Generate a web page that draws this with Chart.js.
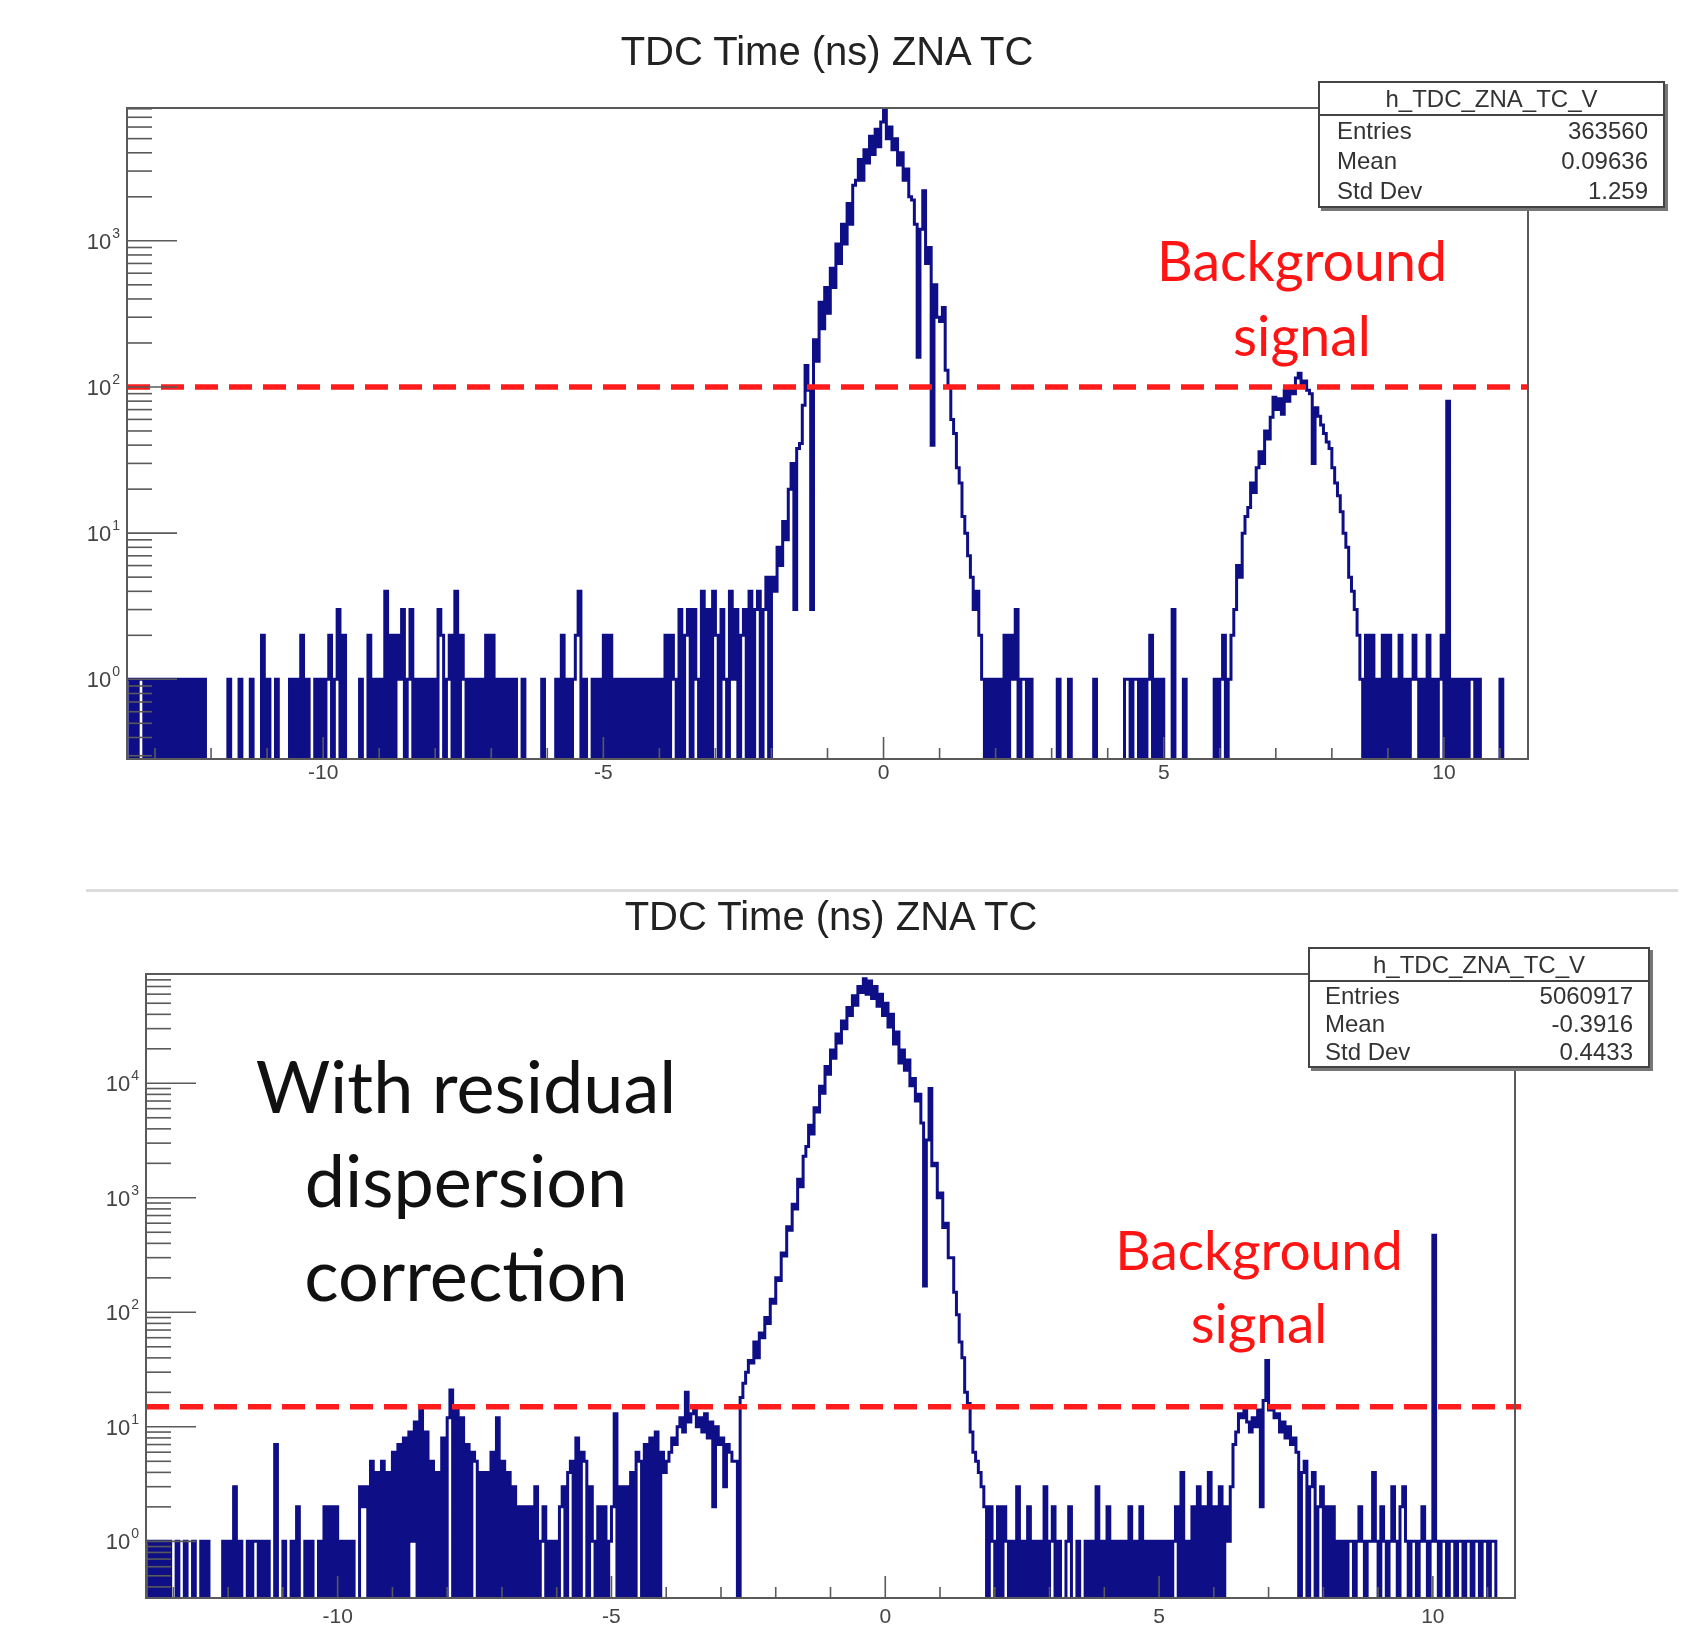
<!DOCTYPE html>
<html>
<head>
<meta charset="utf-8">
<title>TDC Time (ns) ZNA TC</title>
<script src="https://cdn.jsdelivr.net/npm/chart.js@4.4.0/dist/chart.umd.min.js"></script>
<style>
  body { margin: 0; background: #fff; width: 1687px; height: 1628px; position: relative; overflow: hidden; font-family: "Liberation Sans", Arial, sans-serif; }
  canvas { position: absolute; left: 0; filter: blur(0.5px); }
  #topChart { top: 0; }
  #bottomChart { top: 900px; }
  .title { position: absolute; font-size: 40px; color: #222; transform: translate(-50%, -50%); white-space: nowrap; z-index: 2; }
  .sep { position: absolute; left: 86px; top: 889px; width: 1592px; height: 3px; background: #dcdcdc; }
  .stats { position: absolute; box-sizing: border-box; border: 2px solid #444; background: #fff; box-shadow: 3px 3px 0 #777; color: #333; font-size: 24px; z-index: 3; }
  .stats .hdr { text-align: center; border-bottom: 2px solid #444; }
  .stats .row { display: flex; justify-content: space-between; }
  .note { position: absolute; transform: translate(-50%, -50%); text-align: center; font-family: Lato, "Open Sans", sans-serif; white-space: nowrap; z-index: 2; }
  .red { color: #ff1414; }
</style>
</head>
<body>
<canvas id="topChart" width="1687" height="880"></canvas>
<canvas id="bottomChart" width="1687" height="728"></canvas>
<div class="sep"></div>
<div class="title" id="titleTop" style="left:827px; top:51px;"></div>
<div class="title" id="titleBottom" style="left:831px; top:916px;"></div>
<div class="note red" style="left:1302px; top:297px; font-size:55.5px; line-height:75px;">Background<br>signal</div>
<div class="note red" style="left:1259px; top:1286px; font-size:55px; line-height:73px;">Background<br>signal</div>
<div class="note" style="left:466px; top:1179px; font-size:72px; line-height:94px; color:#111;">With residual<br>dispersion<br>correction</div>

<script>
// Histogram binning: 0.05 ns per bin, -13.5 ns to 11.5 ns (500 bins)
const binStart = -13.5;
const binWidth = 0.05;

// Top histogram counts (each line = 1 ns, 20 bins)
const countsTop = [
  1,0,1,0,1,1,0,1,0,1,0,1,0,1,0,1,0,1,0,1,        // -13.5
  0,1,0,1,0,1,0,1,0,0,0,0,0,0,0,0,1,0,0,0,        // -12.5
  1,0,0,0,1,0,0,0,2,0,1,0,0,1,0,0,0,0,1,0,        // -11.5
  1,0,2,0,1,0,0,1,0,1,0,1,2,0,1,3,0,2,0,0,        // -10.5
  0,0,0,1,0,0,2,0,1,0,1,0,4,0,2,0,2,1,3,0,        // -9.5
  1,3,0,1,0,1,0,1,0,1,0,3,2,0,1,2,0,4,0,2,        // -8.5
  1,0,1,0,1,0,1,0,2,0,2,0,1,0,1,0,1,0,1,0,        // -7.5
  0,1,0,0,0,0,0,0,1,0,0,0,0,1,0,2,0,1,0,1,        // -6.5
  2,4,0,1,0,0,1,0,1,0,2,0,2,0,1,0,1,0,1,0,        // -5.5
  1,0,1,0,1,0,1,0,1,0,1,0,2,0,2,1,0,3,0,2,        // -4.5
  3,0,3,1,0,4,0,3,0,4,2,0,3,1,0,4,1,3,0,2,        // -3.5
  3,0,4,0,3,4,0,3,5,0,5,4,8,6,12,9,20,30,3,38,    // -2.5
  41,75,140,95,3,210,150,380,250,480,320,650,480,950,700,1300,950,1800,1300,2400,        // -1.5
  2600,3600,2600,4200,3400,5200,3900,5800,4400,6500,7800,5000,6000,4200,5000,3300,4000,2600,3100,2000, // -0.5
  1900,1300,160,1200,2200,700,900,40,500,300,280,350,130,100,60,48,28,22,13,10,          // 0.5
  7,5,3,4,2,1,0,1,0,1,0,1,0,2,0,2,1,3,0,1,        // 1.5
  1,0,1,0,0,0,0,0,0,0,0,0,1,0,0,0,1,0,0,0,        // 2.5
  0,0,0,0,0,1,0,0,0,0,0,0,0,0,0,0,1,1,0,1,        // 3.5
  1,0,1,0,1,2,0,1,0,1,0,0,0,3,0,0,0,1,0,0,        // 4.5
  0,0,0,0,0,0,0,0,1,0,1,2,0,1,2,3,6,5,10,13,      // 5.5
  15,22,19,28,36,30,50,44,62,85,70,83,65,95,80,100,90,115,124,105, // 6.5
  110,95,90,30,72,63,55,48,42,38,28,22,18,14,10,8,5,4,3,2,         // 7.5
  1,0,2,0,2,0,1,0,2,0,2,0,1,0,2,0,1,0,1,2,        // 8.5
  1,0,1,0,2,0,1,0,1,2,0,80,0,1,0,1,0,1,0,1,       // 9.5
  1,0,1,0,0,0,0,0,0,0,1,0,0,0,0,0,0,0,0,0         // 10.5
];

// Bottom histogram counts (with residual dispersion correction)
const countsBottom = [
  1,0,1,0,1,0,1,0,1,0,0,1,0,0,1,0,0,1,0,0,        // -13.5
  1,0,1,0,0,0,0,0,1,0,1,0,3,0,1,0,0,1,0,1,        // -12.5
  1,0,1,0,1,0,0,7,0,0,1,0,0,1,0,2,0,0,1,0,        // -11.5
  1,0,0,1,0,2,0,2,0,2,0,1,0,1,0,1,0,0,3,2,        // -10.5
  3,0,5,0,4,0,5,0,4,0,6,0,7,0,8,0,9,1,11,0,       // -9.5
  14,0,9,0,5,0,4,0,8,0,12,21,0,14,0,12,0,7,0,6,   // -8.5
  5,0,4,0,4,0,6,0,12,0,5,0,4,0,3,0,2,0,2,0,       // -7.5
  2,0,3,0,1,2,0,1,0,1,0,2,3,0,4,5,0,8,0,6,        // -6.5
  5,0,3,1,0,2,0,2,0,1,2,13,0,3,0,3,0,4,0,6,       // -5.5
  5,0,7,0,8,0,9,0,6,4,5,6,8,7,10,12,9,20,11,13,   // -4.5
  14,10,12,9,13,8,11,2,10,7,8,3,7,6,5,5,0,18,24,30,                   // -3.5
  38,36,55,40,66,60,90,80,130,120,200,190,330,310,560,520,880,800,1450,1250, // -2.5
  2300,2800,4300,3600,6100,5600,9400,8200,14000,12000,19500,16500,27000,22500,35000,30000,46000,39000,58000,48000, // -1.5
  70000,62000,82000,60000,78000,55000,70000,47000,60000,39000,50000,31000,40000,22000,28000,15000,19500,13000,16000,9500, // -0.5
  11000,7000,8000,4500,170,3200,9000,1900,2000,1000,1100,550,600,300,300,150,95,55,40,20, // 0.5
  16,9,6,5,4,3,2,0,2,1,0,2,0,2,1,0,1,0,3,0,       // 1.5
  1,0,2,0,1,0,1,0,3,0,1,2,0,1,0,0,1,2,0,0,        // 2.5
  1,0,0,1,0,1,0,3,0,1,0,2,0,1,0,1,0,1,0,2,        // 3.5
  0,1,0,2,0,1,0,1,0,1,0,1,0,1,0,1,2,0,4,0,        // 4.5
  1,0,2,0,3,0,2,0,4,0,2,0,3,0,2,1,3,7,9,13,       // 5.5
  12,15,11,9,12,10,14,2,17,38,14,15,12,13,9,11,8,10,7,8, // 6.5
  6,0,4,5,0,3,4,0,2,3,0,2,0,2,0,1,0,1,0,1,        // 7.5
  1,0,1,2,1,0,1,1,4,1,0,2,1,0,1,3,1,0,2,3,        // 8.5
  1,0,1,1,0,1,2,1,0,1,470,1,0,1,1,0,1,1,0,1,      // 9.5
  1,0,1,1,0,1,1,0,1,1,0,1,1,0,0,0,0,0,0,0         // 10.5
];

// Axis ranges and tick labels
const xRange = [-13.5, 11.5];
const xTickLabels = [-10, -5, 0, 5, 10];
const yRangeTop = [0.285, 8100];
const yRangeBottom = [0.32, 90000];
const yDecadesTop = [0, 1, 2, 3];
const yDecadesBottom = [0, 1, 2, 3, 4];

// Red dashed "background" level
const thresholdTop = 100;
const thresholdBottom = 15;

// Texts
const chartTitle = 'TDC Time (ns) ZNA TC';
const histName = 'h_TDC_ZNA_TC_V';
const statLabels = ['Entries', 'Mean', 'Std Dev'];
const statsTop = ['363560', '0.09636', '1.259'];
const statsBottom = ['5060917', '-0.3916', '0.4433'];

const lineColor = '#0e0e86';
const EMPTY = 0.1; // empty bins: drawn down below the axis floor

// Histogram as step line: one point per bin low edge + closing edge
function toSteps(counts) {
    const pts = counts.map((c, i) => ({ x: binStart + i * binWidth, y: c > 0 ? c : EMPTY }));
    const last = counts[counts.length - 1];
    pts.push({ x: binStart + counts.length * binWidth, y: last > 0 ? last : EMPTY });
    return pts;
}

// ROOT-like frame, ticks inside, 10^n labels, red dashed line
function rootFrame(decades, threshold, redExtra) {
    return {
        id: 'rootFrame',
        afterDatasetsDraw(chart) {
            const { ctx, chartArea: a, scales: { x, y } } = chart;
            ctx.save();

            // dashed red line
            const ty = y.getPixelForValue(threshold);
            ctx.strokeStyle = '#ff1c1c';
            ctx.lineWidth = 5.5;
            ctx.setLineDash([23, 11]);
            ctx.beginPath();
            ctx.moveTo(a.left, ty);
            ctx.lineTo(a.right + redExtra, ty);
            ctx.stroke();
            ctx.setLineDash([]);

            // frame
            ctx.strokeStyle = '#5a5a5a';
            ctx.lineWidth = 2;
            ctx.strokeRect(a.left, a.top, a.right - a.left, a.bottom - a.top);

            // y ticks (log, 1..9 per decade)
            ctx.lineWidth = 1.6;
            const lo = Math.floor(Math.log10(y.min));
            const hi = Math.ceil(Math.log10(y.max));
            for (let d = lo; d <= hi; d++) {
                for (let m = 1; m <= 9; m++) {
                    const v = m * Math.pow(10, d);
                    if (v < y.min || v > y.max) continue;
                    const py = y.getPixelForValue(v);
                    ctx.beginPath();
                    ctx.moveTo(a.left, py);
                    ctx.lineTo(a.left + (m === 1 ? 50 : 25), py);
                    ctx.stroke();
                }
            }

            // x ticks (1 ns minor, 5 ns major)
            for (let t = Math.ceil(x.min); t <= Math.floor(x.max); t++) {
                const px = x.getPixelForValue(t);
                ctx.beginPath();
                ctx.moveTo(px, a.bottom);
                ctx.lineTo(px, a.bottom - (t % 5 === 0 ? 22 : 11));
                ctx.stroke();
            }

            // y labels 10^n
            ctx.fillStyle = '#444';
            ctx.textAlign = 'right';
            ctx.textBaseline = 'alphabetic';
            decades.forEach(d => {
                const py = y.getPixelForValue(Math.pow(10, d));
                ctx.font = '14px "Liberation Sans"';
                const ew = ctx.measureText(String(d)).width;
                ctx.fillText(String(d), a.left - 7, py - 3);
                ctx.font = '22px "Liberation Sans"';
                ctx.fillText('10', a.left - 8 - ew, py + 8);
            });
            ctx.restore();
        }
    };
}

function makeChart(id, counts, yRange, pad, xHeight, labelPad, decades, threshold, redExtra) {
    return new Chart(document.getElementById(id), {
        type: 'line',
        data: {
            datasets: [{
                data: toSteps(counts),
                stepped: 'before',
                borderColor: lineColor,
                borderWidth: 3,
                pointRadius: 0,
                fill: false
            }]
        },
        options: {
            responsive: false,
            animation: false,
            devicePixelRatio: 1,
            layout: { padding: pad },
            plugins: { legend: { display: false }, tooltip: { enabled: false } },
            scales: {
                x: {
                    type: 'linear',
                    min: xRange[0],
                    max: xRange[1],
                    grid: { display: false, drawTicks: false },
                    border: { display: false },
                    afterBuildTicks: s => { s.ticks = xTickLabels.map(v => ({ value: v })); },
                    afterFit: s => { s.height = xHeight; },
                    ticks: {
                        autoSkip: false,
                        maxRotation: 0,
                        padding: labelPad,
                        color: '#444',
                        font: { family: 'Liberation Sans', size: 21 }
                    }
                },
                y: {
                    type: 'logarithmic',
                    min: yRange[0],
                    max: yRange[1],
                    bounds: 'data',
                    grid: { display: false, drawTicks: false },
                    border: { display: false },
                    ticks: { display: false },
                    afterFit: s => { s.width = 0; }
                }
            }
        },
        plugins: [rootFrame(decades, threshold, redExtra)]
    });
}

makeChart('topChart', countsTop, yRangeTop,
    { left: 127, right: 159, top: 108, bottom: 81 }, 40, 2, yDecadesTop, thresholdTop, 0);
makeChart('bottomChart', countsBottom, yRangeBottom,
    { left: 146, right: 172, top: 74, bottom: 0 }, 30, 7, yDecadesBottom, thresholdBottom, 6);

// Titles
document.getElementById('titleTop').textContent = chartTitle;
document.getElementById('titleBottom').textContent = chartTitle;

// ROOT stat boxes
function statBox(values, left, top, width, hdrH, rowH, padL, padR) {
    const box = document.createElement('div');
    box.className = 'stats';
    box.style.left = left + 'px';
    box.style.top = top + 'px';
    box.style.width = width + 'px';
    const hdr = document.createElement('div');
    hdr.className = 'hdr';
    hdr.style.height = hdr.style.lineHeight = hdrH + 'px';
    hdr.textContent = histName;
    box.appendChild(hdr);
    statLabels.forEach((lab, i) => {
        const row = document.createElement('div');
        row.className = 'row';
        row.style.height = row.style.lineHeight = rowH + 'px';
        row.style.padding = '0 ' + padR + 'px 0 ' + padL + 'px';
        const a = document.createElement('span');
        a.textContent = lab;
        const b = document.createElement('span');
        b.textContent = values[i];
        row.appendChild(a);
        row.appendChild(b);
        box.appendChild(row);
    });
    document.body.appendChild(box);
}
statBox(statsTop, 1318, 81, 347, 31, 30, 17, 15);
statBox(statsBottom, 1308, 947, 342, 31, 28, 15, 15);
</script>
</body>
</html>
